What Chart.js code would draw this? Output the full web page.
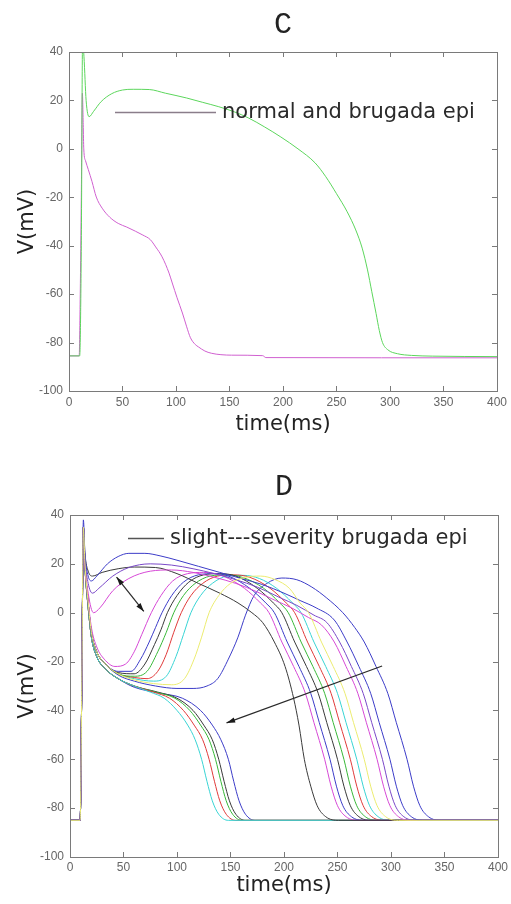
<!DOCTYPE html>
<html><head><meta charset="utf-8">
<script src="https://cdn.jsdelivr.net/npm/chart.js@4.4.1/dist/chart.umd.min.js"></script>
<style>
html,body{margin:0;padding:0;background:#fff;width:511px;height:904px;overflow:hidden}
.w{position:absolute;left:0;width:511px;height:452px}
canvas{display:block}
</style></head><body>
<div class="w" style="top:0"><canvas id="c1" width="511" height="452"></canvas></div>
<div class="w" style="top:452px"><canvas id="c2" width="511" height="452"></canvas></div>
<script>
// ---------- tick labels ----------
const timeTicks = [0, 50, 100, 150, 200, 250, 300, 350, 400];
const voltTicks = [-100, -80, -60, -40, -20, 0, 20, 40];

// ---------- panel C : [time ms, V mV] ----------
const normalEpi = [[0,-85.5],[10,-85.5],[11.5,-40],[12.7,45],[14,38],[16,20],[18.8,13.3],[23,15.5],[30,19.5],[40,22.8],[50,24.3],[60,24.6],[75,24.5],[90,23],[110,21],[125,19.2],[140,17.4],[155,15.2],[168,12.7],[183,9],[198,4.9],[214,0],[230,-5.8],[240,-11.5],[250,-18.5],[260,-26],[268,-33.5],[274,-41],[279,-50],[283,-59],[287,-68],[290,-75],[293,-80],[298,-83],[307,-84.6],[320,-85.3],[340,-85.6],[400,-85.8]];
const brugadaEpi = [[0,-85.5],[9.5,-85.5],[10.5,-60],[11.5,-20],[12.5,23],[13.3,10],[13.8,0],[15.5,-5],[18,-8.5],[21.5,-13.5],[25.5,-19.9],[31,-24.5],[38,-28.2],[46,-30.8],[54,-32.3],[62,-34],[69,-35.6],[76,-37.5],[81,-40.5],[87,-44.6],[93.5,-51.3],[96.5,-55.4],[101,-61.5],[106,-67.8],[110,-73.5],[113.5,-78],[118,-80.8],[121,-81.8],[127,-83.5],[133,-84.4],[142,-85],[152,-85.2],[181,-85.4],[184,-86.2],[400,-86.3]];

// ---------- panel D : slight ... severe brugada epi ----------
const slightEpi = [[0,-85],[9.5,-85],[11,-30],[12.5,38],[14,24],[17,15],[20,13],[25,15],[35,20],[45,23],[55,24.3],[70,24.3],[85,23.2],[100,21.5],[120,19],[140,16.5],[160,14],[180,11.5],[200,8],[215,5],[230,2],[247,-3],[259,-12],[270,-22],[281,-33],[289,-45],[299,-60],[305,-71],[311,-79],[319,-83.5],[331,-85],[400,-85]];
const notchPlus8 = [[0,-85],[9.5,-85],[11,-30],[12.5,35],[14,22],[17,12],[21,8],[27,10],[40,15],[55,18.5],[75,20],[95,19.5],[115,18],[135,16],[155,13.5],[175,10.5],[197,6],[212,3],[228,-1],[240,-4],[252,-12],[263,-22],[274,-33],[282,-45],[292,-60],[298,-71],[304,-79],[312,-83.5],[324,-85],[400,-85]];
const notchZero = [[0,-85],[9.5,-85],[11,-30],[12.5,35],[14,20],[17,8],[22,0],[28,2],[40,9],[55,14],[75,17],[95,17.5],[115,16.5],[135,14.5],[155,12],[175,8.5],[192,5],[207,2],[223,-2],[235,-5],[247,-12],[258,-22],[269,-33],[277,-45],[287,-60],[293,-71],[299,-79],[307,-83.5],[319,-85],[400,-85]];
const shallowNotch = [[0,-85],[9.5,-85],[11,-30],[12.5,35],[14,24],[17,17],[21,15],[30,16.5],[45,18],[60,18.7],[80,18.5],[100,16],[120,12],[140,8],[157,4],[170,0],[180,-4],[191,-12],[201,-22],[209,-35],[214,-46],[219,-60],[225,-71],[231,-79],[239,-83.5],[251,-85],[400,-85]];
const dome1 = [[0,-85],[9.5,-85],[11,-30],[12.5,35],[14,20],[17,5],[20,-6],[25,-14],[32,-19],[42,-22],[52,-21],[60,-16],[67,-9],[76,0],[85,7],[96,13],[110,16],[125,16.5],[143,15],[163,10],[178,4],[186,0],[198,-12],[209,-22],[220,-33],[228,-45],[238,-60],[244,-71],[250,-79],[258,-83.5],[270,-85],[400,-85]];
const dome2 = [[0,-85],[9.5,-85],[11,-30],[12.5,35],[14,20],[17,4],[20,-8],[25,-16],[33,-21],[45,-24],[57,-24],[66,-19],[74,-12],[80,-6],[86,0],[95,7],[106,12.5],[120,15.5],[135,16],[148,15],[168,10],[183,4],[191,0],[203,-12],[214,-22],[225,-33],[233,-45],[243,-60],[249,-71],[255,-79],[263,-83.5],[275,-85],[400,-85]];
const dome3 = [[0,-85],[9.5,-85],[11,-30],[12.5,35],[14,20],[17,4],[20,-8],[25,-16],[33,-21],[45,-24.5],[60,-25],[70,-21],[79,-13],[85,-7],[91,0],[100,7],[111,12.5],[125,15.5],[140,16],[155,15],[175,10],[190,4],[198,0],[210,-12],[221,-22],[232,-33],[240,-45],[250,-60],[256,-71],[262,-79],[270,-83.5],[282,-85],[400,-85]];
const dome4 = [[0,-85],[9.5,-85],[11,-30],[12.5,35],[14,20],[17,4],[20,-8],[25,-16],[33,-21],[45,-25],[60,-26],[72,-24],[82,-16],[90,-8],[97,0],[106,7],[117,12],[131,15],[146,15.5],[161,14.5],[181,10],[196,4],[204,0],[216,-12],[227,-22],[238,-33],[246,-45],[256,-60],[262,-71],[268,-79],[276,-83.5],[288,-85],[400,-85]];
const dome5 = [[0,-85],[9.5,-85],[11,-30],[12.5,35],[14,20],[17,4],[20,-8],[25,-16],[33,-21],[45,-25],[60,-26.5],[72,-27],[82,-24],[90,-17],[97,-8],[104,0],[113,7],[124,12],[138,15],[153,15.5],[168,14.5],[187,10],[202,4],[210,0],[222,-12],[233,-22],[244,-33],[252,-45],[262,-60],[268,-71],[274,-79],[282,-83.5],[294,-85],[400,-85]];
const dome6 = [[0,-85],[9.5,-85],[11,-30],[12.5,35],[14,20],[17,4],[20,-8],[25,-16],[33,-21],[45,-25],[60,-27],[78,-28],[90,-26],[99,-18],[106,-9],[113,0],[122,7],[133,12],[147,15],[162,15.3],[177,14],[193,10],[208,4],[216,0],[228,-12],[239,-22],[250,-33],[258,-45],[268,-60],[274,-71],[280,-79],[288,-83.5],[300,-85],[400,-85]];
const dome7 = [[0,-85],[9.5,-85],[11,-30],[12.5,35],[14,20],[17,4],[20,-8],[25,-16],[33,-21],[45,-25],[60,-27.5],[78,-29],[95,-29.5],[107,-27],[116,-19],[123,-10],[130,0],[139,7],[150,12],[164,14.5],[178,15],[192,13.5],[205,10],[215,4],[223,0],[235,-12],[246,-22],[257,-33],[265,-45],[275,-60],[281,-71],[287,-79],[295,-83.5],[307,-85],[400,-85]];
const lateDome = [[0,-85],[9.5,-85],[11,-30],[12.5,35],[14,20],[17,4],[20,-8],[25,-16],[33,-21],[45,-25.5],[60,-28],[80,-30],[100,-31],[115,-31],[128,-30],[138,-27],[148,-19],[157,-10],[164,-1],[172,7],[184,12],[198,14.2],[212,13.5],[226,10.5],[240,6],[255,0],[266,-6],[275,-12],[286,-22],[297,-33],[305,-45],[315,-60],[321,-71],[327,-79],[335,-83.5],[347,-85],[400,-85]];
const lossDome1 = [[0,-85],[9.5,-85],[11,-30],[12.5,32],[14,18],[17,2],[20,-10],[25,-18],[33,-23],[45,-27],[60,-30],[75,-32.5],[88,-35],[100,-40],[110,-46],[117,-52],[123,-60],[128,-69],[133,-77],[139,-82.5],[148,-85],[400,-85]];
const lossDome2 = [[0,-85],[9.5,-85],[11,-30],[12.5,32],[14,18],[17,2],[20,-10],[25,-18],[33,-23],[45,-27],[60,-30],[78,-32.5],[93,-35],[106,-40],[116,-46],[124,-52],[130,-60],[135,-69],[140,-77],[146,-82.5],[155,-85],[400,-85]];
const lossDome3 = [[0,-85],[9.5,-85],[11,-30],[12.5,32],[14,18],[17,2],[20,-10],[25,-18],[33,-23],[45,-27],[60,-30],[80,-32.5],[98,-35],[112,-40],[122,-46],[130,-52],[136,-60],[141,-69],[146,-77],[152,-82.5],[161,-85],[400,-85]];
const lossDome4 = [[0,-85],[9.5,-85],[11,-30],[12.5,32],[14,18],[17,2],[20,-10],[25,-18],[33,-23],[45,-27],[60,-30],[82,-32.5],[100,-35],[115,-40],[125,-46],[133,-52],[139,-60],[144,-69],[149,-77],[155,-82.5],[164,-85],[400,-85]];
const lossDome5 = [[0,-85],[9.5,-85],[11,-30],[12.5,32],[14,18],[17,2],[20,-10],[25,-18],[33,-23],[45,-27],[60,-30.5],[85,-33],[105,-35],[122,-40],[133,-46],[141,-52],[148,-60],[153,-69],[158,-77],[164,-82.5],[173,-85],[400,-85]];

// arrows in data units [time, V]
const severityArrows = [
  {from:[43.5,14.6], to:[69,0.5], both:true},
  {from:[291.7,-21.8], to:[146.3,-45.1], both:false}
];

// ---------- colours ----------
const C = {b:'#3c3cc8', g:'#38b838', r:'#e03a3a', c:'#38d4d4', m:'#d648d6', y:'#ecec70', k:'#3a3a3a', p:'#7a48c8'};

const panelC = [
  {label:'normal epi', pts:normalEpi, color:'#5cd65c'},
  {label:'brugada epi', pts:brugadaEpi, color:'#d060d0'}
];
const panelD = [
  {label:'d7', pts:dome7, color:C.y},
  {label:'slight', pts:slightEpi, color:C.b},
  {label:'n8', pts:notchPlus8, color:C.p},
  {label:'n0', pts:notchZero, color:C.m},
  {label:'shallow', pts:shallowNotch, color:C.k},
  {label:'d1', pts:dome1, color:C.m},
  {label:'d2', pts:dome2, color:C.b},
  {label:'d3', pts:dome3, color:C.k},
  {label:'d4', pts:dome4, color:C.g},
  {label:'d5', pts:dome5, color:C.r},
  {label:'d6', pts:dome6, color:C.c},
  {label:'late', pts:lateDome, color:C.b},
  {label:'s1', pts:lossDome1, color:C.c},
  {label:'s2', pts:lossDome2, color:C.r},
  {label:'s3', pts:lossDome3, color:C.g},
  {label:'s4', pts:lossDome4, color:C.k},
  {label:'s5', pts:lossDome5, color:C.b}
];

function overlay(cfg){
  return {
    id:'overlay_'+cfg.id,
    afterDatasetsDraw(chart){
      const ctx = chart.ctx, a = chart.chartArea, xs = chart.scales.x, ys = chart.scales.y;
      ctx.save();
      // box + inward ticks
      ctx.strokeStyle = '#7a7a7a'; ctx.lineWidth = 1;
      ctx.strokeRect(Math.round(a.left)+0.5, Math.round(a.top)+0.5, Math.round(a.right-a.left), Math.round(a.bottom-a.top));
      ctx.beginPath();
      timeTicks.forEach(v=>{ const px = Math.round(xs.getPixelForValue(v))+0.5;
        ctx.moveTo(px,a.bottom); ctx.lineTo(px,a.bottom-5); ctx.moveTo(px,a.top); ctx.lineTo(px,a.top+5); });
      voltTicks.forEach(v=>{ const py = Math.round(ys.getPixelForValue(v))+0.5;
        ctx.moveTo(a.left,py); ctx.lineTo(a.left+5,py); ctx.moveTo(a.right,py); ctx.lineTo(a.right-5,py); });
      ctx.stroke();
      // arrows
      (cfg.arrows||[]).forEach(ar=>{
        const x0 = xs.getPixelForValue(ar.from[0]), y0 = ys.getPixelForValue(ar.from[1]);
        const x1 = xs.getPixelForValue(ar.to[0]), y1 = ys.getPixelForValue(ar.to[1]);
        ctx.strokeStyle = '#2a2a2a'; ctx.fillStyle = '#1a1a1a'; ctx.lineWidth = 1.2;
        ctx.beginPath(); ctx.moveTo(x0,y0); ctx.lineTo(x1,y1); ctx.stroke();
        const head = (x,y,ang)=>{ ctx.beginPath(); ctx.moveTo(x,y);
          ctx.lineTo(x-9*Math.cos(ang-0.3), y-9*Math.sin(ang-0.3));
          ctx.lineTo(x-9*Math.cos(ang+0.3), y-9*Math.sin(ang+0.3)); ctx.closePath(); ctx.fill(); };
        const ang = Math.atan2(y1-y0, x1-x0);
        head(x1,y1,ang);
        if (ar.both) head(x0,y0,ang+Math.PI);
      });
      // legend
      const L = cfg.legend;
      ctx.strokeStyle = L.lineColor; ctx.lineWidth = 1.5;
      ctx.beginPath(); ctx.moveTo(L.x0, L.y+0.5); ctx.lineTo(L.x1, L.y+0.5); ctx.stroke();
      ctx.fillStyle = '#2a2a2a'; ctx.font = '21px "DejaVu Sans"'; ctx.textBaseline = 'middle'; ctx.textAlign = 'left';
      ctx.fillText(L.text, L.tx, L.y+1);
      ctx.restore();
    }
  };
}

function build(id, series, cfg){
  return new Chart(document.getElementById(id), {
    type:'line',
    data:{datasets: series.map(s=>({
      label:s.label, data:s.pts.map(p=>({x:p[0], y:p[1]})),
      borderColor:s.color, borderWidth:1, pointRadius:0, fill:false,
      cubicInterpolationMode:'monotone'
    }))},
    options:{
      responsive:false, animation:false, devicePixelRatio:1,
      layout:{autoPadding:false, padding:{left:0, right:cfg.padRight, top:0, bottom:0}},
      plugins:{
        legend:{display:false}, tooltip:{enabled:false},
        title:{display:true, text:cfg.title, fullSize:false, color:'#222',
          font:{family:'Liberation Mono', size:30, weight:'normal', lineHeight:1},
          padding:{top:cfg.titleTop, bottom:cfg.titleBottom}}
      },
      scales:{
        x:{type:'linear', min:0, max:400,
          afterBuildTicks:s=>{ s.ticks = timeTicks.map(v=>({value:v})); },
          afterFit:s=>{ s.height = cfg.xHeight; },
          grid:{display:false, drawTicks:false}, border:{display:true, color:'#7a7a7a'},
          ticks:{autoSkip:false, maxRotation:0, padding:cfg.xTickPad, color:'#666',
            font:{family:'Liberation Sans', size:12}, callback:v=>String(v)},
          title:{display:true, text:'time(ms)', color:'#222',
            font:{family:'DejaVu Sans', size:21, lineHeight:1.2}, padding:{top:0, bottom:cfg.xTitleBottom}}
        },
        y:{type:'linear', min:-100, max:40,
          afterBuildTicks:s=>{ s.ticks = voltTicks.map(v=>({value:v})); },
          afterFit:s=>{ s.width = cfg.yWidth; },
          grid:{display:false, drawTicks:false}, border:{display:true, color:'#7a7a7a'},
          ticks:{padding:6, color:'#666', font:{family:'Liberation Sans', size:12}, callback:v=>String(v)},
          title:{display:true, text:'V(mV)', color:'#222',
            font:{family:'DejaVu Sans', size:21, lineHeight:1.2}, padding:{top:15, bottom:0}}
        }
      }
    },
    plugins:[overlay(cfg)]
  });
}

build('c1', panelC, {id:'C', title:'C', padRight:10, yWidth:69, xHeight:61, xTickPad:4, xTitleBottom:15,
  titleTop:10, titleBottom:12,
  legend:{text:'normal and brugada epi', x0:115, x1:216, y:112, tx:222, lineColor:'#8a7d8a'}});
build('c2', panelD, {id:'D', title:'D', padRight:9, yWidth:70, xHeight:47, xTickPad:3, xTitleBottom:6,
  titleTop:20, titleBottom:13, arrows:severityArrows,
  legend:{text:'slight---severity brugada epi', x0:128, x1:164, y:86, tx:170, lineColor:'#555'}});
</script>
</body></html>
